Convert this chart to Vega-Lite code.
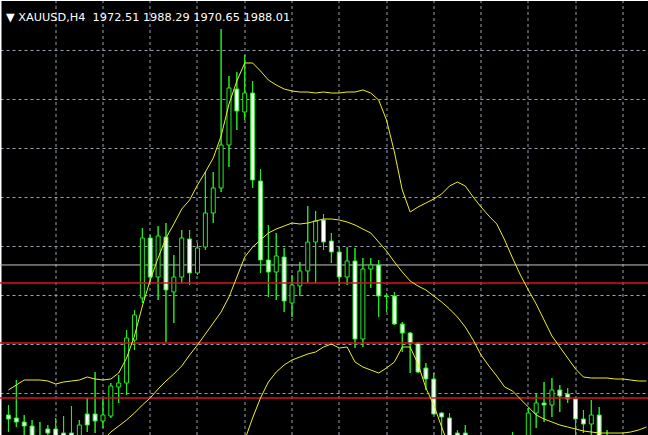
{
  "$schema": "https://vega.github.io/schema/vega-lite/v6.json",
  "width": 648,
  "height": 435,
  "autosize": {"type": "none"},
  "padding": 0,
  "background": "#000000",
  "title": {
    "text": "▼ XAUUSD,H4\u00a0\u00a01972.51 1988.29 1970.65 1988.01",
    "anchor": "start",
    "frame": "group",
    "orient": "top",
    "offset": -32,
    "baseline": "alphabetic",
    "dx": 6,
    "font": "DejaVu Sans",
    "fontSize": 11.3,
    "fontWeight": "normal",
    "color": "#ffffff"
  },
  "config": {
    "view": {"stroke": null},
    "axis": {"labels": false, "ticks": false, "title": null, "domain": true, "domainColor": "#ffffff", "domainWidth": 2, "grid": true, "gridColor": "#9aa2ae", "gridDash": [3,3], "gridWidth": 1}
  },
  "datasets": {
    "candles": [
      {"k":0,"o":1928.0,"h":1932.0,"l":1921.2,"c":1926.4},
      {"k":1,"o":1926.8,"h":1942.0,"l":1923.2,"c":1925.2},
      {"k":2,"o":1925.2,"h":1928.0,"l":1918.0,"c":1923.6},
      {"k":3,"o":1923.6,"h":1926.0,"l":1916.0,"c":1918.8},
      {"k":4,"o":1919.6,"h":1925.2,"l":1915.6,"c":1918.0},
      {"k":5,"o":1922.4,"h":1924.0,"l":1918.8,"c":1920.8},
      {"k":6,"o":1922.4,"h":1926.8,"l":1918.0,"c":1919.2},
      {"k":7,"o":1920.8,"h":1927.6,"l":1917.2,"c":1918.8},
      {"k":8,"o":1920.8,"h":1931.6,"l":1918.0,"c":1919.2},
      {"k":9,"o":1919.6,"h":1926.0,"l":1918.0,"c":1924.0},
      {"k":10,"o":1928.4,"h":1934.8,"l":1921.2,"c":1924.0},
      {"k":11,"o":1928.4,"h":1945.2,"l":1920.8,"c":1925.6},
      {"k":12,"o":1925.6,"h":1934.8,"l":1922.8,"c":1928.0},
      {"k":13,"o":1927.6,"h":1940.8,"l":1926.8,"c":1939.6},
      {"k":14,"o":1939.2,"h":1944.0,"l":1932.8,"c":1940.8},
      {"k":15,"o":1940.8,"h":1962.0,"l":1936.0,"c":1958.8},
      {"k":16,"o":1958.0,"h":1970.0,"l":1954.0,"c":1968.0},
      {"k":17,"o":1974.8,"h":2002.8,"l":1972.8,"c":1998.8},
      {"k":18,"o":1998.8,"h":2000.0,"l":1980.8,"c":1983.2},
      {"k":19,"o":1983.2,"h":2003.6,"l":1974.0,"c":1999.6},
      {"k":20,"o":1999.2,"h":2004.8,"l":1957.2,"c":1978.0},
      {"k":21,"o":1977.2,"h":1992.0,"l":1964.8,"c":1983.2},
      {"k":22,"o":1983.2,"h":2002.0,"l":1980.8,"c":1998.8},
      {"k":23,"o":1998.4,"h":2002.0,"l":1980.0,"c":1984.8},
      {"k":24,"o":1984.8,"h":1996.8,"l":1984.0,"c":1994.8},
      {"k":25,"o":1995.2,"h":2025.2,"l":1994.0,"c":2008.8},
      {"k":26,"o":2008.8,"h":2025.2,"l":2004.8,"c":2018.8},
      {"k":27,"o":2018.8,"h":2082.4,"l":2017.2,"c":2036.0},
      {"k":28,"o":2036.0,"h":2063.6,"l":2027.2,"c":2058.8},
      {"k":29,"o":2058.4,"h":2065.2,"l":2042.0,"c":2049.6},
      {"k":30,"o":2049.2,"h":2072.0,"l":2046.0,"c":2056.8},
      {"k":31,"o":2056.8,"h":2061.6,"l":2018.8,"c":2022.0},
      {"k":32,"o":2021.6,"h":2026.4,"l":1984.8,"c":1990.0},
      {"k":33,"o":1990.0,"h":2004.0,"l":1975.2,"c":1985.2},
      {"k":34,"o":1985.2,"h":2000.8,"l":1974.0,"c":1991.6},
      {"k":35,"o":1991.2,"h":1994.8,"l":1969.2,"c":1973.6},
      {"k":36,"o":1972.8,"h":1984.0,"l":1967.2,"c":1980.0},
      {"k":37,"o":1979.6,"h":1989.2,"l":1975.6,"c":1985.6},
      {"k":38,"o":1985.6,"h":2011.6,"l":1980.8,"c":1997.2},
      {"k":39,"o":1997.2,"h":2009.6,"l":1980.8,"c":2005.6},
      {"k":40,"o":2006.0,"h":2008.4,"l":1994.0,"c":1997.2},
      {"k":41,"o":1997.6,"h":2000.8,"l":1988.8,"c":1993.2},
      {"k":42,"o":1993.2,"h":1995.2,"l":1979.6,"c":1983.2},
      {"k":43,"o":1983.2,"h":1995.2,"l":1980.0,"c":1989.6},
      {"k":44,"o":1989.6,"h":1994.8,"l":1954.8,"c":1958.4},
      {"k":45,"o":1958.4,"h":1990.8,"l":1955.2,"c":1986.4},
      {"k":46,"o":1986.4,"h":1990.8,"l":1978.8,"c":1988.0},
      {"k":47,"o":1988.0,"h":1990.0,"l":1967.2,"c":1975.6},
      {"k":48,"o":1975.6,"h":1976.8,"l":1969.2,"c":1975.4},
      {"k":49,"o":1975.6,"h":1977.2,"l":1964.0,"c":1964.4},
      {"k":50,"o":1964.4,"h":1965.2,"l":1953.2,"c":1960.8},
      {"k":51,"o":1960.8,"h":1961.2,"l":1944.8,"c":1956.8},
      {"k":52,"o":1956.8,"h":1957.2,"l":1944.8,"c":1945.2},
      {"k":53,"o":1946.8,"h":1948.8,"l":1938.0,"c":1942.4},
      {"k":54,"o":1942.4,"h":1944.8,"l":1928.0,"c":1928.4},
      {"k":55,"o":1928.8,"h":1929.2,"l":1918.0,"c":1927.2},
      {"k":56,"o":1926.8,"h":1928.8,"l":1916.0,"c":1918.0},
      {"k":57,"o":1920.8,"h":1922.0,"l":1917.2,"c":1918.8},
      {"k":58,"o":1920.8,"h":1924.0,"l":1918.0,"c":1919.2},
      {"k":64,"o":1916.0,"h":1921.2,"l":1914.0,"c":1918.8},
      {"k":66,"o":1918.8,"h":1930.8,"l":1917.2,"c":1928.8},
      {"k":67,"o":1928.8,"h":1936.8,"l":1922.8,"c":1932.8},
      {"k":68,"o":1932.8,"h":1941.2,"l":1925.2,"c":1932.0},
      {"k":69,"o":1932.0,"h":1942.8,"l":1927.2,"c":1938.0},
      {"k":70,"o":1938.0,"h":1940.0,"l":1929.2,"c":1935.6},
      {"k":71,"o":1936.4,"h":1938.8,"l":1932.8,"c":1934.4},
      {"k":72,"o":1934.4,"h":1935.2,"l":1919.2,"c":1926.4},
      {"k":73,"o":1926.4,"h":1930.0,"l":1920.8,"c":1924.4},
      {"k":74,"o":1924.4,"h":1934.0,"l":1919.2,"c":1928.0},
      {"k":75,"o":1928.0,"h":1931.2,"l":1917.2,"c":1918.8},
      {"k":76,"o":1919.2,"h":1922.0,"l":1914.0,"c":1916.0}
    ],
    "bands": [
      {"k":0,"up":1938.0,"mid":null,"lo":null},
      {"k":1,"up":1940.0,"mid":null,"lo":null},
      {"k":2,"up":1942.0,"mid":null,"lo":null},
      {"k":3,"up":1942.0,"mid":null,"lo":null},
      {"k":4,"up":1942.0,"mid":null,"lo":null},
      {"k":5,"up":1941.6,"mid":null,"lo":null},
      {"k":6,"up":1940.4,"mid":null,"lo":null},
      {"k":7,"up":1941.2,"mid":null,"lo":null},
      {"k":8,"up":1941.6,"mid":null,"lo":null},
      {"k":9,"up":1942.0,"mid":null,"lo":null},
      {"k":10,"up":1943.2,"mid":null,"lo":null},
      {"k":11,"up":1942.4,"mid":null,"lo":null},
      {"k":12,"up":1942.0,"mid":1918.0,"lo":null},
      {"k":13,"up":1942.4,"mid":1921.2,"lo":null},
      {"k":14,"up":1944.8,"mid":1923.6,"lo":null},
      {"k":15,"up":1950.8,"mid":1926.0,"lo":null},
      {"k":16,"up":1959.6,"mid":1928.8,"lo":null},
      {"k":17,"up":1971.6,"mid":1932.0,"lo":null},
      {"k":18,"up":1982.0,"mid":1934.8,"lo":null},
      {"k":19,"up":1990.8,"mid":1938.4,"lo":null},
      {"k":20,"up":1998.8,"mid":1941.6,"lo":null},
      {"k":21,"up":2004.4,"mid":1944.4,"lo":null},
      {"k":22,"up":2010.4,"mid":1947.6,"lo":null},
      {"k":23,"up":2014.0,"mid":1952.0,"lo":null},
      {"k":24,"up":2020.0,"mid":1956.0,"lo":null},
      {"k":25,"up":2025.2,"mid":1960.4,"lo":null},
      {"k":26,"up":2030.8,"mid":1964.8,"lo":null},
      {"k":27,"up":2039.6,"mid":1969.2,"lo":null},
      {"k":28,"up":2052.4,"mid":1975.2,"lo":null},
      {"k":29,"up":2061.6,"mid":1983.2,"lo":null},
      {"k":30,"up":2068.8,"mid":1991.2,"lo":1918.0},
      {"k":31,"up":2068.8,"mid":1995.2,"lo":1926.8},
      {"k":32,"up":2065.6,"mid":1998.0,"lo":1934.8},
      {"k":33,"up":2062.0,"mid":2000.8,"lo":1941.2},
      {"k":34,"up":2060.0,"mid":2002.4,"lo":1945.2},
      {"k":35,"up":2058.4,"mid":2003.6,"lo":1948.0},
      {"k":36,"up":2057.6,"mid":2004.8,"lo":1950.0},
      {"k":37,"up":2057.2,"mid":2004.4,"lo":1951.2},
      {"k":38,"up":2057.2,"mid":2004.8,"lo":1952.4},
      {"k":39,"up":2056.8,"mid":2005.6,"lo":1953.2},
      {"k":40,"up":2057.2,"mid":2006.4,"lo":1955.2},
      {"k":41,"up":2056.8,"mid":2006.4,"lo":1956.4},
      {"k":42,"up":2056.8,"mid":2006.0,"lo":1954.8},
      {"k":43,"up":2057.2,"mid":2005.2,"lo":1955.2},
      {"k":44,"up":2057.2,"mid":2004.0,"lo":1949.2},
      {"k":45,"up":2058.0,"mid":2002.4,"lo":1947.2},
      {"k":46,"up":2056.8,"mid":2000.8,"lo":1946.0},
      {"k":47,"up":2054.0,"mid":1997.2,"lo":1944.8},
      {"k":48,"up":2046.0,"mid":1993.6,"lo":1946.8},
      {"k":49,"up":2033.2,"mid":1989.2,"lo":1949.2},
      {"k":50,"up":2018.0,"mid":1985.2,"lo":1955.2},
      {"k":51,"up":2009.2,"mid":1981.6,"lo":1955.2},
      {"k":52,"up":2011.2,"mid":1979.6,"lo":1948.4},
      {"k":53,"up":2012.8,"mid":1978.0,"lo":1938.8},
      {"k":54,"up":2014.4,"mid":1975.6,"lo":1932.0},
      {"k":55,"up":2016.4,"mid":1973.2,"lo":1923.2},
      {"k":56,"up":2019.6,"mid":1970.4,"lo":1914.8},
      {"k":57,"up":2021.2,"mid":1967.2,"lo":null},
      {"k":58,"up":2019.6,"mid":1963.2,"lo":null},
      {"k":59,"up":2015.2,"mid":1958.0,"lo":null},
      {"k":60,"up":2011.2,"mid":1952.0,"lo":null},
      {"k":61,"up":2007.6,"mid":1947.6,"lo":null},
      {"k":62,"up":2004.4,"mid":1943.6,"lo":null},
      {"k":63,"up":1998.0,"mid":1939.2,"lo":null},
      {"k":64,"up":1990.8,"mid":1937.6,"lo":null},
      {"k":65,"up":1984.0,"mid":1934.4,"lo":null},
      {"k":66,"up":1978.0,"mid":1931.2,"lo":null},
      {"k":67,"up":1972.4,"mid":1928.0,"lo":null},
      {"k":68,"up":1966.0,"mid":1926.4,"lo":null},
      {"k":69,"up":1959.6,"mid":1925.2,"lo":null},
      {"k":70,"up":1955.2,"mid":1924.0,"lo":null},
      {"k":71,"up":1950.8,"mid":1923.2,"lo":null},
      {"k":72,"up":1946.4,"mid":1922.4,"lo":null},
      {"k":73,"up":1943.2,"mid":1921.6,"lo":null},
      {"k":74,"up":1942.8,"mid":1921.2,"lo":null},
      {"k":75,"up":1942.8,"mid":1920.8,"lo":null},
      {"k":76,"up":1942.8,"mid":1920.8,"lo":null},
      {"k":77,"up":1942.4,"mid":1920.8,"lo":null},
      {"k":78,"up":1942.4,"mid":1920.8,"lo":null},
      {"k":79,"up":1942.0,"mid":1921.2,"lo":null},
      {"k":80,"up":1941.6,"mid":1922.0,"lo":null},
      {"k":81,"up":1941.6,"mid":1923.2,"lo":null}
    ],
    "levels": [
      {"p":1988.01,"t":"bid"},
      {"p":1980.8,"t":"hline"},
      {"p":1956.8,"t":"hline"},
      {"p":1934.8,"t":"hline"}
    ]
  },
  "layer": [
    {
      "data": {"name": "candles"},
      "mark": {"type": "rule", "color": "#20ee20", "strokeWidth": 1, "clip": true},
      "encoding": {
        "x": {
          "field": "k", "type": "quantitative",
          "scale": {"domain": [-0.4375, 80.5625], "nice": false, "zero": false},
          "axis": {"orient": "top", "values": [6,12,18,24,30,36,42,48,54,60,66,72,78], "translate": 0, "title": null}
        },
        "y": {
          "field": "l", "type": "quantitative",
          "scale": {"domain": [1920, 2094], "nice": false, "zero": false},
          "axis": {"orient": "left", "values": [2074, 2054.4, 2034.8, 2015.2, 1995.6, 1976, 1956.4, 1936.8], "title": null}
        },
        "y2": {"field": "h"}
      }
    },
    {
      "data": {"name": "levels"},
      "transform": [{"filter": "datum.t === 'bid'"}],
      "mark": {"type": "rule", "color": "#c4c4c4", "strokeWidth": 1},
      "encoding": {"y": {"field": "p", "type": "quantitative"}}
    },
    {
      "data": {"name": "candles"},
      "mark": {"type": "rule", "color": "#20ee20", "strokeWidth": 1, "clip": true},
      "encoding": {
        "x": {"field": "k", "type": "quantitative"},
        "y": {"field": "l", "type": "quantitative"},
        "y2": {"field": "h"}
      }
    },
    {
      "data": {"name": "candles"},
      "mark": {"type": "bar", "orient": "vertical", "width": 4, "stroke": "#20ee20", "strokeWidth": 1, "clip": true},
      "encoding": {
        "x": {"field": "k", "type": "quantitative"},
        "y": {"field": "o", "type": "quantitative"},
        "y2": {"field": "c"},
        "fill": {"condition": {"test": "datum.c > datum.o", "value": "#000000"}, "value": "#ffffff"}
      }
    },
    {
      "data": {"name": "levels"},
      "transform": [{"filter": "datum.t === 'hline'"}],
      "mark": {"type": "rule", "color": "#d8141e", "strokeWidth": 1.5},
      "encoding": {"y": {"field": "p", "type": "quantitative"}}
    },
    {
      "data": {"name": "bands"},
      "mark": {"type": "line", "color": "#f0f020", "strokeWidth": 1, "clip": true},
      "encoding": {
        "x": {"field": "k", "type": "quantitative"},
        "y": {"field": "up", "type": "quantitative"}
      }
    },
    {
      "data": {"name": "bands"},
      "mark": {"type": "line", "color": "#f0f020", "strokeWidth": 1, "clip": true},
      "encoding": {
        "x": {"field": "k", "type": "quantitative"},
        "y": {"field": "mid", "type": "quantitative"}
      }
    },
    {
      "data": {"name": "bands"},
      "mark": {"type": "line", "color": "#f0f020", "strokeWidth": 1, "clip": true},
      "encoding": {
        "x": {"field": "k", "type": "quantitative"},
        "y": {"field": "lo", "type": "quantitative"}
      }
    }
  ]
}
